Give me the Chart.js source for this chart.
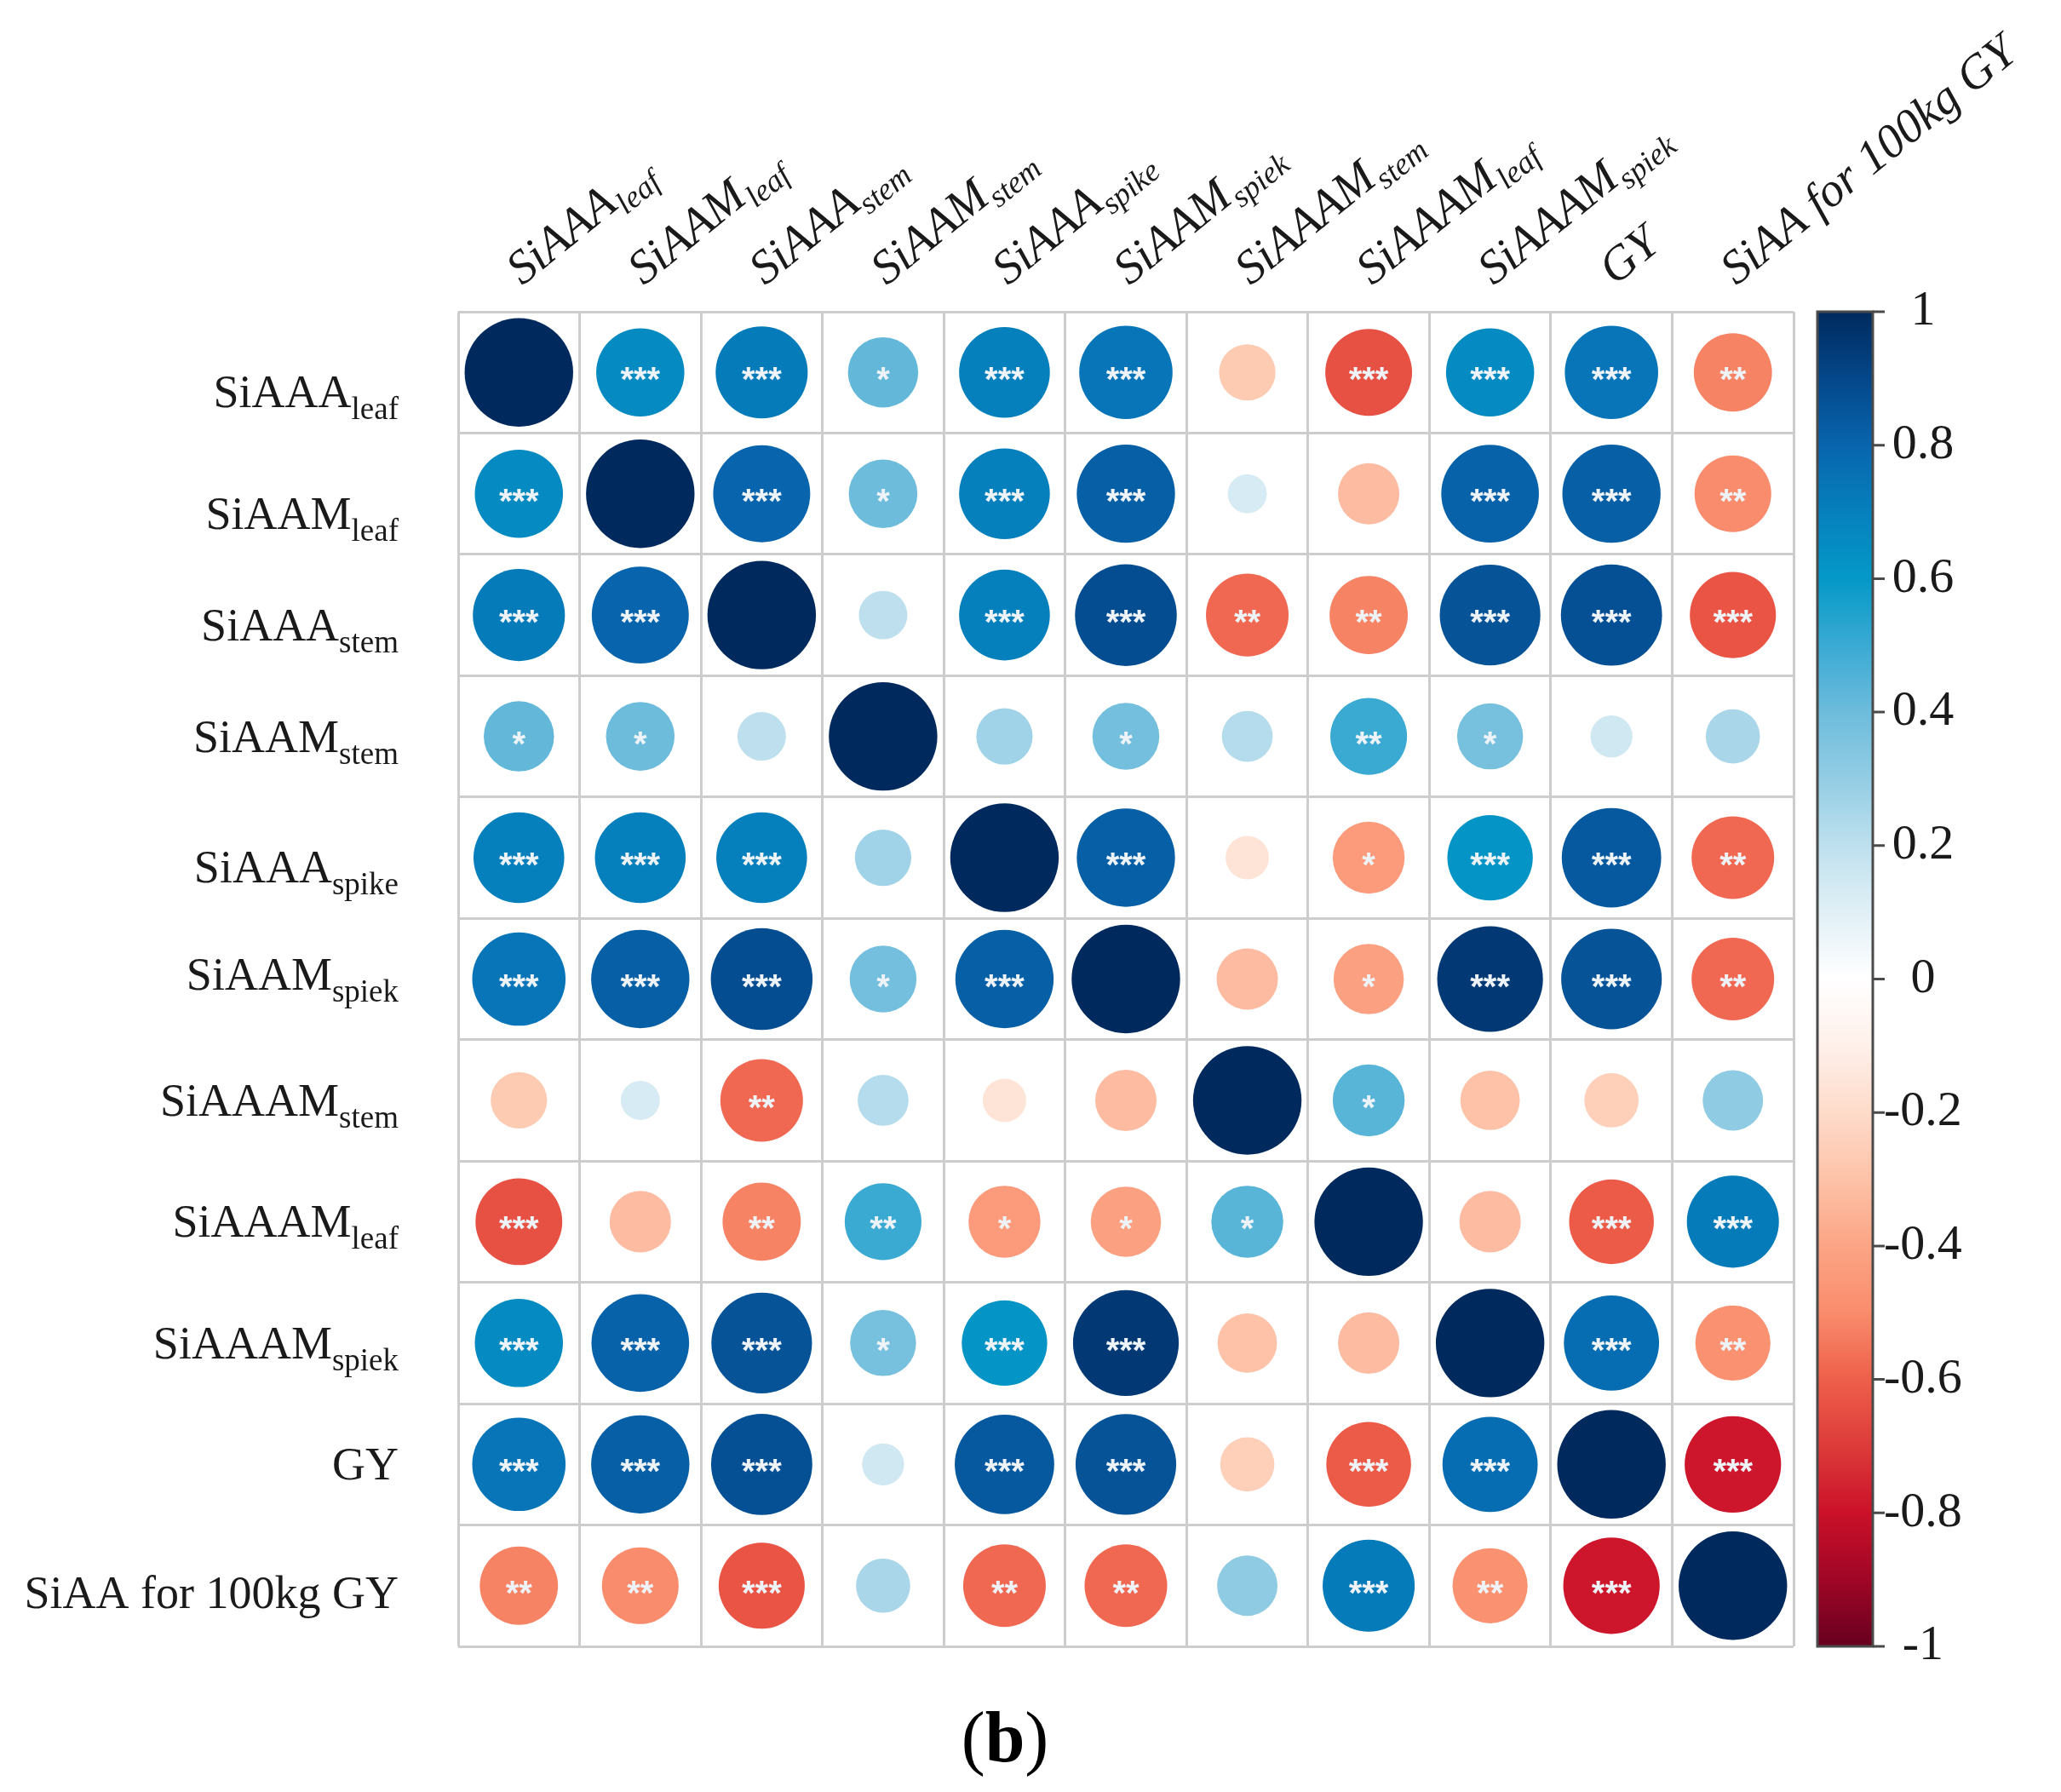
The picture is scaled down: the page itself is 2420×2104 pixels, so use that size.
<!DOCTYPE html>
<html>
<head>
<meta charset="utf-8">
<script src="https://cdn.jsdelivr.net/npm/chart.js@4.4.1/dist/chart.umd.min.js"></script>
<style>
  html, body { margin: 0; padding: 0; background: #fff; }
  #contenedor { width: 2420px; height: 2104px; position: relative; }
</style>
</head>
<body>
<div id="contenedor"><canvas id="graficoCorr"></canvas></div>
<script>
// nombres de las variables (texto principal + subindice)
const nombres = ["SiAAA", "SiAAM", "SiAAA", "SiAAM", "SiAAA", "SiAAM", "SiAAAM", "SiAAAM", "SiAAAM", "GY", "SiAA for 100kg GY"];
const subindices = ["leaf", "leaf", "stem", "stem", "spike", "spiek", "stem", "leaf", "spiek", "", ""];

// correlaciones, una fila por variable
const fila1  = [1, 0.66, 0.72, 0.42, 0.70, 0.74, -0.27, -0.64, 0.66, 0.74, -0.52];
const fila2  = [0.66, 1, 0.80, 0.40, 0.70, 0.82, 0.13, -0.32, 0.81, 0.82, -0.50];
const fila3  = [0.72, 0.80, 1, 0.20, 0.70, 0.88, -0.58, -0.52, 0.86, 0.87, -0.63];
const fila4  = [0.42, 0.40, 0.20, 1, 0.27, 0.38, 0.22, 0.50, 0.37, 0.15, 0.25];
const fila5  = [0.70, 0.70, 0.70, 0.27, 1, 0.82, -0.16, -0.44, 0.62, 0.84, -0.58];
const fila6  = [0.74, 0.82, 0.88, 0.38, 0.82, 1, -0.32, -0.42, 0.95, 0.86, -0.58];
const fila7  = [-0.27, 0.13, -0.58, 0.22, -0.16, -0.32, 1, 0.44, -0.30, -0.25, 0.31];
const fila8  = [-0.64, -0.32, -0.52, 0.50, -0.44, -0.42, 0.44, 1, -0.32, -0.61, 0.72];
const fila9  = [0.66, 0.81, 0.86, 0.37, 0.62, 0.95, -0.30, -0.32, 1, 0.77, -0.48];
const fila10 = [0.74, 0.82, 0.87, 0.15, 0.84, 0.86, -0.25, -0.61, 0.77, 1, -0.79];
const fila11 = [-0.52, -0.50, -0.63, 0.25, -0.58, -0.58, 0.31, 0.72, -0.48, -0.79, 1];

// significancia
const est1  = ["", "***", "***", "*", "***", "***", "", "***", "***", "***", "**"];
const est2  = ["***", "", "***", "*", "***", "***", "", "", "***", "***", "**"];
const est3  = ["***", "***", "", "", "***", "***", "**", "**", "***", "***", "***"];
const est4  = ["*", "*", "", "", "", "*", "", "**", "*", "", ""];
const est5  = ["***", "***", "***", "", "", "***", "", "*", "***", "***", "**"];
const est6  = ["***", "***", "***", "*", "***", "", "", "*", "***", "***", "**"];
const est7  = ["", "", "**", "", "", "", "", "*", "", "", ""];
const est8  = ["***", "", "**", "**", "*", "*", "*", "", "", "***", "***"];
const est9  = ["***", "***", "***", "*", "***", "***", "", "", "", "***", "**"];
const est10 = ["***", "***", "***", "", "***", "***", "", "***", "***", "", "***"];
const est11 = ["**", "**", "***", "", "**", "**", "", "***", "**", "***", ""];

// marcas de la barra de color
const marcasBarra = [1, 0.8, 0.6, 0.4, 0.2, 0, -0.2, -0.4, -0.6, -0.8, -1];

const filas = [fila1, fila2, fila3, fila4, fila5, fila6, fila7, fila8, fila9, fila10, fila11];
const estrellas = [est1, est2, est3, est4, est5, est6, est7, est8, est9, est10, est11];
const etiquetas = nombres.map((n, i) => subindices[i] ? n + "_" + subindices[i] : n);

// paleta (valor, color)
const paleta = [
  [-1.0, "#67001f"], [-0.9, "#a00626"], [-0.8, "#cb1129"], [-0.7, "#dd3b3a"],
  [-0.6, "#ee5f4a"], [-0.5, "#f98c6c"], [-0.4, "#fca585"], [-0.3, "#fdc2a8"],
  [-0.2, "#fedbca"], [-0.1, "#fff0ea"], [0, "#ffffff"], [0.1, "#e1f0f6"],
  [0.2, "#bee0ee"], [0.3, "#93cde4"], [0.4, "#6dbcdc"], [0.5, "#3aaad3"],
  [0.6, "#0499c8"], [0.7, "#0680bd"], [0.8, "#0865ad"], [0.9, "#04478a"],
  [1.0, "#002a5e"]
];

function hexRgb(h) {
  return [parseInt(h.substr(1, 2), 16), parseInt(h.substr(3, 2), 16), parseInt(h.substr(5, 2), 16)];
}

function colorDe(v) {
  for (let k = 0; k < paleta.length - 1; k++) {
    const a = paleta[k], b = paleta[k + 1];
    if (v >= a[0] && v <= b[0]) {
      const t = (v - a[0]) / (b[0] - a[0]);
      const ca = hexRgb(a[1]), cb = hexRgb(b[1]);
      const c = ca.map((x, q) => Math.round(x + (cb[q] - x) * t));
      return "rgb(" + c.join(",") + ")";
    }
  }
  return v < 0 ? paleta[0][1] : paleta[paleta.length - 1][1];
}

const puntos = [];
filas.forEach((fila, i) => {
  fila.forEach((v, j) => {
    puntos.push({ x: etiquetas[j], y: etiquetas[i], v: v, s: estrellas[i][j] });
  });
});

const SERIF = '"Liberation Serif", "Times New Roman", serif';

// etiquetas con subindice, barra de color y pie de figura
const dibujoExtra = {
  id: 'dibujoExtra',
  afterDatasetsDraw(chart) {
    const ctx = chart.ctx;
    const meta = chart.getDatasetMeta(0);
    ctx.save();
    ctx.fillStyle = "#eef3f8";
    ctx.font = 'bold 40px "Liberation Sans", Arial, sans-serif';
    ctx.textAlign = "center";
    ctx.textBaseline = "alphabetic";
    meta.data.forEach((el, k) => {
      const s = puntos[k].s;
      if (s) ctx.fillText(s, el.x, el.y + 22);
    });
    ctx.restore();
  },
  afterDraw(chart) {
    const ctx = chart.ctx;
    const sx = chart.scales.x, sy = chart.scales.y, cb = chart.scales.barra;
    const area = chart.chartArea;
    ctx.save();
    ctx.fillStyle = "#1a1a1a";
    ctx.textBaseline = "alphabetic";

    // filas (el texto del original no queda centrado igual en todas)
    const fPrin = "54px " + SERIF, fSub = "37px " + SERIF;
    const derecha = 468;
    const ajuste = [23, 23, 12, 0, 11, -6, 0, 0, 0, 0, 8];
    nombres.forEach((n, i) => {
      const cy = sy.getPixelForValue(i);
      const sub = subindices[i];
      ctx.font = fSub;
      const wSub = sub ? ctx.measureText(sub).width : 0;
      ctx.font = fPrin;
      const wPrin = ctx.measureText(n).width;
      const base = cy + ajuste[i] + 18;
      ctx.textAlign = "left";
      ctx.fillText(n, derecha - wSub - wPrin, base);
      if (sub) {
        ctx.font = fSub;
        ctx.fillText(sub, derecha - wSub, base + 14);
      }
    });

    // columnas giradas
    const fPrinI = "italic 56px " + SERIF, fSubI = "italic 37px " + SERIF;
    nombres.forEach((n, j) => {
      const cx = sx.getPixelForValue(j);
      ctx.save();
      ctx.translate(cx + 4, area.top - 30);
      ctx.rotate(-39 * Math.PI / 180);
      ctx.textAlign = "left";
      ctx.font = fPrinI;
      ctx.fillText(n, 0, 0);
      const w = ctx.measureText(n).width;
      if (subindices[j]) {
        ctx.font = fSubI;
        ctx.fillText(subindices[j], w + 1, 12);
      }
      ctx.restore();
    });

    // barra de color
    const x0 = 2134, x1 = 2199;
    const yT = cb.getPixelForValue(1), yB = cb.getPixelForValue(-1);
    const grad = ctx.createLinearGradient(0, yT, 0, yB);
    paleta.forEach(p => grad.addColorStop((1 - p[0]) / 2, p[1]));
    ctx.fillStyle = grad;
    ctx.fillRect(x0, yT, x1 - x0, yB - yT);
    ctx.strokeStyle = "#4a4a4a";
    ctx.lineWidth = 3;
    ctx.strokeRect(x0, yT, x1 - x0, yB - yT);
    ctx.beginPath();
    marcasBarra.forEach(v => {
      const y = cb.getPixelForValue(v);
      ctx.moveTo(x1, y);
      ctx.lineTo(x1 + 14, y);
    });
    ctx.stroke();

    // (b)
    ctx.fillStyle = "#000";
    ctx.textAlign = "left";
    const fPar = "84px " + SERIF, fB = "bold 84px " + SERIF;
    ctx.font = fPar;
    const wp = ctx.measureText("(").width, wq = ctx.measureText(")").width;
    ctx.font = fB;
    const wb = ctx.measureText("b").width;
    let xi = 1180 - (wp + wb + wq) / 2;
    const yb = 2068;
    ctx.font = fPar; ctx.fillText("(", xi, yb); xi += wp;
    ctx.font = fB; ctx.fillText("b", xi, yb); xi += wb;
    ctx.font = fPar; ctx.fillText(")", xi, yb);
    ctx.restore();
  }
};

// radio: area del circulo proporcional a |r|
function radioDe(ctx) {
  const s = ctx.chart.scales.x;
  const p = puntos[ctx.dataIndex];
  if (!s || !p) return 0;
  let celda = Math.abs(s.getPixelForValue(1) - s.getPixelForValue(0));
  if (!isFinite(celda) || celda <= 0) celda = 140;
  return Math.sqrt(Math.abs(p.v)) * 0.455 * celda;
}

const grafico = new Chart(document.getElementById("graficoCorr"), {
  type: 'bubble',
  data: {
    datasets: [{
      data: puntos,
      backgroundColor: ctx => colorDe(puntos[ctx.dataIndex] ? puntos[ctx.dataIndex].v : 0),
      borderWidth: 0,
      radius: radioDe,
      clip: false
    }]
  },
  options: {
    responsive: true,
    maintainAspectRatio: false,
    devicePixelRatio: 1,
    animation: false,
    events: [],
    layout: { autoPadding: false, padding: { left: 538, top: 366, right: 84, bottom: 171 } },
    plugins: { legend: { display: false }, tooltip: { enabled: false } },
    scales: {
      x: {
        type: 'category', labels: etiquetas, offset: true, position: 'bottom',
        grid: { offset: true, color: "#cdcdcd", lineWidth: 3, drawTicks: false },
        border: { display: false },
        ticks: { display: false },
        afterFit: s => { s.height = 0; }
      },
      y: {
        type: 'category', labels: etiquetas, offset: true, position: 'left',
        grid: { offset: true, color: "#cdcdcd", lineWidth: 3, drawTicks: false },
        border: { display: false },
        ticks: { display: false },
        afterFit: s => { s.width = 0; }
      },
      barra: {
        type: 'linear', position: 'right', min: -1, max: 1, axis: 'y',
        grid: { drawOnChartArea: false, drawTicks: false },
        border: { display: false },
        ticks: {
          stepSize: 0.2, padding: 106, crossAlign: 'center', color: "#1a1a1a",
          font: { family: SERIF, size: 58 },
          callback: v => Math.abs(v) < 1e-9 ? "0" : String(+v.toFixed(1))
        },
        afterFit: s => { s.width = 230; }
      }
    }
  },
  plugins: [dibujoExtra]
});
</script>
</body>
</html>
